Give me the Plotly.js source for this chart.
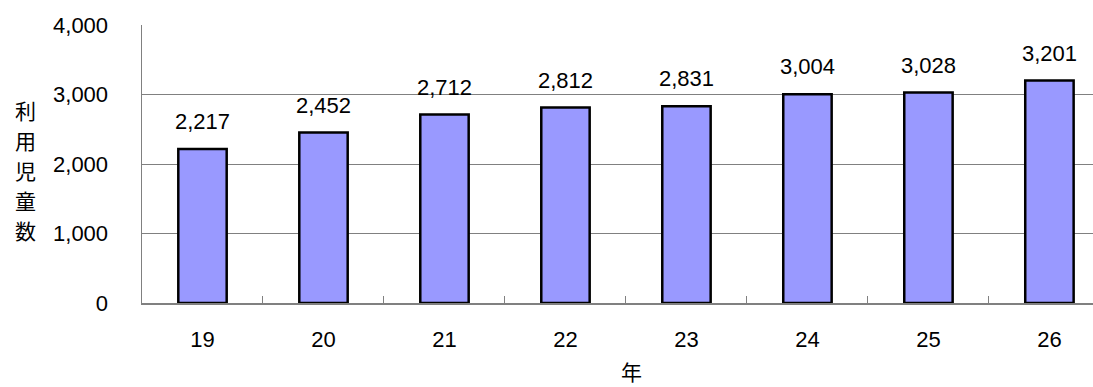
<!DOCTYPE html>
<html>
<head>
<meta charset="utf-8">
<script src="https://cdn.plot.ly/plotly-3.0.1.min.js"></script>
<style>html,body{margin:0;padding:0;background:#fff;}</style>
</head>
<body>
<div id="chart" style="width:1093px;height:387px;"></div>
<script>
const categories = ['19', '20', '21', '22', '23', '24', '25', '26'];
const values = [2217, 2452, 2712, 2812, 2831, 3004, 3028, 3201];
const yTickVals = [0, 1000, 2000, 3000, 4000];
const yTickText = ['0', '1,000', '2,000', '3,000', '4,000'];
const yTitle = '利用児童数';
const xTitle = '年';

const font = 'Liberation Sans, Arial, sans-serif';
const cjk = 'Noto Sans CJK JP, sans-serif';

function fmt(v) {
  return String(v).replace(/\B(?=(\d{3})+(?!\d))/g, ',');
}

const trace = {
  type: 'bar',
  x: categories,
  y: values,
  width: 0.40,
  marker: {color: '#9999FF', line: {color: '#000000', width: 2.5}},
  hoverinfo: 'none'
};

const annotations = categories.map((c, i) => ({
  x: i, y: values[i], xref: 'x', yref: 'y',
  text: fmt(values[i]),
  showarrow: false, xanchor: 'center', yanchor: 'bottom', yshift: 13,
  font: {family: font, size: 22, color: '#000'}
}));

// vertical title: one annotation per character, stacked
const plotH = 387 - 25 - 83.5;
yTitle.split('').forEach((ch, k) => {
  const centerPx = 110 + k * 30;
  annotations.push({
    xref: 'paper', yref: 'paper', x: -0.122, y: (303.5 - centerPx) / plotH,
    xanchor: 'center', yanchor: 'middle',
    text: ch, showarrow: false,
    font: {family: cjk, size: 21, color: '#000'}
  });
});
annotations.push({
  xref: 'paper', yref: 'paper', x: 0.515, y: -0.245,
  xanchor: 'center', yanchor: 'middle',
  text: xTitle, showarrow: false,
  font: {family: cjk, size: 21, color: '#000'}
});

const layout = {
  width: 1093, height: 387,
  margin: {l: 142, r: 0, t: 25, b: 83.5, pad: 0},
  paper_bgcolor: '#fff', plot_bgcolor: '#fff',
  showlegend: false,
  xaxis: {
    type: 'category',
    range: [-0.5, 7.36],
    showgrid: false,
    showline: true, linecolor: '#808080', linewidth: 1.5,
    ticks: 'inside', tickson: 'boundaries', ticklen: 7, tickcolor: '#808080', tickwidth: 1,
    ticklabelstandoff: 16,
    tickfont: {family: font, size: 22, color: '#000'},
    fixedrange: true
  },
  yaxis: {
    range: [0, 4000],
    tickvals: yTickVals, ticktext: yTickText,
    showgrid: true, gridcolor: '#808080', gridwidth: 1,
    showline: true, linecolor: '#808080', linewidth: 1.5,
    ticks: 'inside', ticklen: 7, tickcolor: '#808080',
    ticklabelstandoff: 28,
    zeroline: false,
    tickfont: {family: font, size: 22, color: '#000'},
    fixedrange: true
  },
  annotations: annotations
};

Plotly.newPlot('chart', [trace], layout, {displayModeBar: false, staticPlot: true});
</script>
</body>
</html>
